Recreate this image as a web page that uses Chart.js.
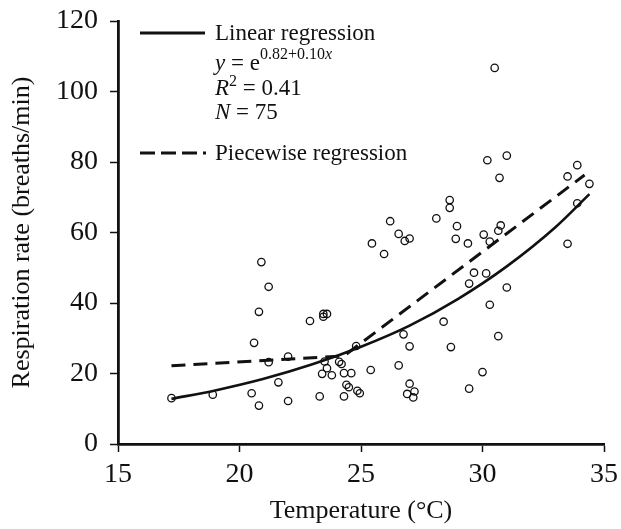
<!DOCTYPE html>
<html>
<head>
<meta charset="utf-8">
<script src="https://cdn.jsdelivr.net/npm/chart.js@4.4.1/dist/chart.umd.min.js"></script>
<style>
  html, body { margin: 0; padding: 0; background: #fff; }
  #wrap { width: 621px; height: 529px; }
</style>
</head>
<body>
<div id="wrap"><canvas id="chart" width="621" height="529"></canvas></div>
<script>
// observed points (temperature, respiration rate)
const tempC = [17.2, 18.9, 20.5, 20.8, 21.6, 22.0, 23.3, 24.3, 24.4, 24.5,
  24.85, 24.95, 25.4, 24.3, 24.6, 23.4, 23.8, 23.6, 23.5, 24.1,
  24.2, 24.8, 22.0, 21.2, 20.6, 22.9, 23.45, 23.6, 23.45, 20.8,
  21.2, 20.9, 25.45, 30.2, 33.9, 30.7, 33.5, 34.4, 33.9, 28.65,
  28.65, 28.1, 26.2, 26.55, 26.8, 27.0, 25.95, 28.95, 28.9, 29.4,
  30.05, 30.3, 30.75, 30.65, 33.5, 29.65, 30.15, 29.45, 31.0, 30.3,
  28.4, 26.75, 27.0, 28.7, 30.65, 26.55, 30.0, 29.45, 27.0, 26.9,
  27.2, 27.15, 30.5, 31.0];
const respRate = [13.0, 14.0, 14.4, 10.9, 17.5, 12.2, 13.5, 13.5, 16.8, 16.1,
  15.1, 14.4, 21.0, 20.1, 20.1, 19.9, 19.5, 21.5, 23.4, 23.3,
  22.7, 27.8, 24.8, 23.2, 28.7, 34.9, 36.9, 36.9, 36.1, 37.5,
  44.6, 51.6, 56.9, 80.5, 79.1, 75.5, 75.9, 73.8, 68.3, 69.2,
  67.0, 64.0, 63.2, 59.6, 57.6, 58.3, 53.9, 61.8, 58.2, 56.9,
  59.4, 57.4, 62.0, 60.5, 56.8, 48.6, 48.4, 45.5, 44.4, 39.5,
  34.7, 31.1, 27.7, 27.5, 30.6, 22.3, 20.4, 15.7, 17.1, 14.2,
  14.9, 13.2, 106.7, 81.8];

// linear (log) regression curve
const fitTemp = [17.2, 19, 21, 23, 25, 27, 29, 31, 33, 34.4];
const fitRate = [12.8, 15.2, 18.5, 22.6, 27.6, 33.6, 41.2, 50.4, 61.5, 70.9];

// piecewise regression
const pieceTemp = [17.2, 24.3, 34.2];
const pieceRate = [22.2, 25.0, 76.3];

const xTicks = [15, 20, 25, 30, 35];
const yTicks = [0, 20, 40, 60, 80, 100, 120];

const serif = '"Liberation Serif", "Times New Roman", serif';
const ink = '#111';

const toXY = (xs, ys) => xs.map((x, i) => ({ x, y: ys[i] }));

const legendBox = {
  id: 'legendBox',
  afterDraw(chart) {
    const ctx = chart.ctx;
    ctx.save();
    ctx.strokeStyle = ink;
    ctx.fillStyle = ink;
    ctx.lineWidth = 3;
    ctx.beginPath(); ctx.moveTo(140, 33); ctx.lineTo(205, 33); ctx.stroke();
    ctx.setLineDash([15, 6]);
    ctx.beginPath(); ctx.moveTo(140, 153); ctx.lineTo(206, 153); ctx.stroke();
    ctx.setLineDash([]);

    ctx.textBaseline = 'alphabetic';
    const run = (parts, x, y) => {
      parts.forEach(([txt, font, dy]) => {
        ctx.font = font;
        ctx.fillText(txt, x, y + (dy || 0));
        x += ctx.measureText(txt).width;
      });
    };
    const reg = '23px ' + serif, it = 'italic 23px ' + serif;
    const sup = '16px ' + serif, supIt = 'italic 16px ' + serif;
    run([['Linear regression', reg]], 215, 40);
    run([['y', it], [' = e', reg], ['0.82+0.10', sup, -11], ['x', supIt, -11]], 215, 70);
    run([['R', it], ['2', sup, -9], [' = 0.41', reg]], 215, 95);
    run([['N', it], [' = 75', reg]], 215, 119);
    run([['Piecewise regression', reg]], 215, 160);
    ctx.restore();
  }
};

new Chart(document.getElementById('chart').getContext('2d'), {
  type: 'scatter',
  data: {
    datasets: [
      {
        label: 'Linear regression',
        data: toXY(fitTemp, fitRate),
        showLine: true,
        borderColor: ink,
        borderWidth: 2.6,
        pointRadius: 0,
        cubicInterpolationMode: 'monotone',
        order: 1
      },
      {
        label: 'Piecewise regression',
        data: toXY(pieceTemp, pieceRate),
        showLine: true,
        borderColor: ink,
        borderWidth: 3,
        borderDash: [14, 8],
        pointRadius: 0,
        order: 2
      },
      {
        label: 'Observed',
        data: toXY(tempC, respRate),
        pointRadius: 3.7,
        pointBorderWidth: 1.3,
        borderColor: ink,
        backgroundColor: 'rgba(0,0,0,0)',
        order: 3
      }
    ]
  },
  options: {
    responsive: false,
    animation: false,
    layout: { padding: { top: 21, right: 17, left: 0, bottom: 0 } },
    plugins: {
      legend: { display: false },
      tooltip: { enabled: false }
    },
    scales: {
      x: {
        type: 'linear',
        min: 15,
        max: 35,
        afterBuildTicks: s => { s.ticks = xTicks.map(v => ({ value: v })); },
        afterFit: s => { s.height = 85; s.paddingLeft = 0; s.paddingRight = 0; },
        border: { display: true, color: ink, width: 2.8 },
        grid: { drawOnChartArea: false, drawTicks: true, tickLength: 8, color: ink, tickWidth: 1.5 },
        ticks: { color: ink, padding: 6, maxRotation: 0, font: { family: serif, size: 28 } },
        title: { display: true, text: 'Temperature (°C)', color: ink, padding: { bottom: 2 }, font: { family: serif, size: 26 } }
      },
      y: {
        type: 'linear',
        min: 0,
        max: 120,
        afterBuildTicks: s => { s.ticks = yTicks.map(v => ({ value: v })); },
        afterFit: s => { s.width = 118; s.paddingTop = 0; s.paddingBottom = 0; },
        border: { display: true, color: ink, width: 2.8 },
        grid: { drawOnChartArea: false, drawTicks: true, tickLength: 8, color: ink, tickWidth: 1.5 },
        ticks: { color: ink, padding: 12, font: { family: serif, size: 28 } },
        title: { display: true, text: 'Respiration rate (breaths/min)', color: ink, padding: { top: 7 }, font: { family: serif, size: 26 } }
      }
    }
  },
  plugins: [legendBox]
});
</script>
</body>
</html>
